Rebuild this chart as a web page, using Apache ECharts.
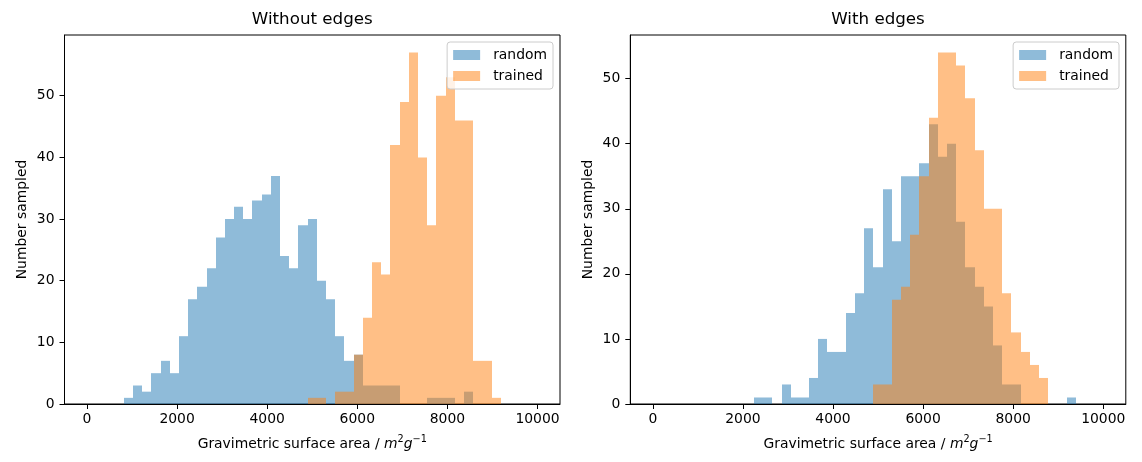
<!DOCTYPE html>
<html>
<head>
<meta charset="utf-8">
<title>Gravimetric surface area histograms</title>
<script src="https://cdn.jsdelivr.net/npm/echarts@6/dist/echarts.min.js"></script>
<style>
html, body { margin: 0; padding: 0; background: #fff; }
#main { width: 1142px; height: 462px; }
</style>
</head>
<body>
<div id="main"></div>
<script>
// histogram bins: 49 equal bins between 0 and 10000 (np.linspace(0, 10000, 50))
var binLo = 0, binHi = 10000, binCount = 49;
var xTicks = [0, 2000, 4000, 6000, 8000, 10000];
var yTicks = [0, 10, 20, 30, 40, 50];
var legendNames = ['random', 'trained'];

// counts per bin
var noEdgesRandom = [0, 0, 0, 0, 1, 3, 2, 5, 7, 5,
  11, 17, 19, 22, 27, 30, 32, 30, 33, 34,
  37, 24, 22, 29, 30, 20, 17, 11, 7, 8,
  3, 3, 3, 3, 0, 0, 0, 1, 1, 1,
  0, 2, 0, 0, 0, 0, 0, 0, 0];
var noEdgesTrained = [0, 0, 0, 0, 0, 0, 0, 0, 0, 0,
  0, 0, 0, 0, 0, 0, 0, 0, 0, 0,
  0, 0, 0, 0, 1, 1, 0, 2, 2, 8,
  14, 23, 21, 42, 49, 57, 40, 29, 50, 53,
  46, 46, 7, 7, 1, 0, 0, 0, 0];
var edgesRandom = [0, 0, 0, 0, 0, 0, 0, 0, 0, 0,
  0, 1, 1, 0, 3, 1, 1, 4, 10, 8,
  8, 14, 17, 27, 21, 33, 25, 35, 35, 37,
  43, 38, 40, 28, 21, 18, 15, 9, 3, 3,
  0, 0, 0, 0, 0, 1, 0, 0, 0];
var edgesTrained = [0, 0, 0, 0, 0, 0, 0, 0, 0, 0,
  0, 0, 0, 0, 0, 0, 0, 0, 0, 0,
  0, 0, 0, 0, 3, 3, 16, 18, 26, 35,
  44, 54, 54, 52, 47, 39, 30, 30, 17, 11,
  8, 6, 4, 0, 0, 0, 0, 0, 0];

var FONT = 'DejaVu Sans';
var blue = 'rgba(31,119,180,0.5)';
var orange = 'rgba(255,127,14,0.5)';

function binData(counts) {
  var w = (binHi - binLo) / binCount;
  var out = [];
  for (var i = 0; i < counts.length; i++) {
    out.push([binLo + i * w, binLo + (i + 1) * w, counts[i]]);
  }
  return out;
}

function renderBin(params, api) {
  var h = api.value(2);
  if (!h) return;
  var p0 = api.coord([api.value(0), h]);
  var p1 = api.coord([api.value(1), 0]);
  var x0 = Math.round(p0[0]), x1 = Math.round(p1[0]);
  return {
    type: 'rect',
    shape: { x: x0, y: p0[1], width: x1 - x0, height: p1[1] - p0[1] },
    style: { fill: api.visual('color') }
  };
}

function histSeries(name, counts, idx, color) {
  return {
    name: name,
    type: 'custom',
    xAxisIndex: idx,
    yAxisIndex: idx,
    itemStyle: { color: color },
    renderItem: renderBin,
    encode: { x: [0, 1], y: 2 },
    data: binData(counts),
    animation: false
  };
}

function plainNum(v) { return String(v); }

function xAxisFor(idx) {
  return {
    gridIndex: idx, type: 'value', min: -500, max: 10500,
    axisLine: { show: true, onZero: false, lineStyle: { color: '#000', width: 1 } },
    axisTick: { show: true, customValues: xTicks, length: 5, lineStyle: { color: '#000', width: 1 } },
    axisLabel: { customValues: xTicks, formatter: plainNum, color: '#000', fontSize: 13.9, fontFamily: FONT, margin: 8 },
    splitLine: { show: false },
    name: '{t|Gravimetric surface area / }{i|m}{s|2}{i|g}{s|\u22121}',
    nameLocation: 'middle', nameGap: 30,
    nameTextStyle: {
      color: '#000', fontFamily: FONT, fontSize: 13.9,
      rich: {
        t: { fontSize: 13.9, fontFamily: FONT, color: '#000', lineHeight: 20 },
        i: { fontSize: 13.9, fontFamily: FONT, color: '#000', fontStyle: 'italic', lineHeight: 20 },
        s: { fontSize: 9.7, fontFamily: FONT, color: '#000', verticalAlign: 'top', lineHeight: 20 }
      }
    }
  };
}

function yAxisFor(idx, max) {
  return {
    gridIndex: idx, type: 'value', min: 0, max: max,
    axisLine: { show: true, onZero: false, lineStyle: { color: '#000', width: 1 } },
    axisTick: { show: true, customValues: yTicks, length: 5, lineStyle: { color: '#000', width: 1 } },
    axisLabel: { customValues: yTicks, formatter: plainNum, color: '#000', fontSize: 13.9, fontFamily: FONT, margin: 10 },
    splitLine: { show: false },
    name: 'Number sampled', nameLocation: 'middle', nameGap: 35,
    nameTextStyle: { color: '#000', fontFamily: FONT, fontSize: 13.9 }
  };
}

function legendFor(right) {
  return {
    data: legendNames, orient: 'vertical', right: right, top: 42,
    icon: 'rect', itemWidth: 27, itemHeight: 10, itemGap: 7,
    textStyle: { color: '#000', fontSize: 13.9, fontFamily: FONT, padding: [0, 0, 0, 8] },
    padding: [6, 6, 6, 6], borderColor: '#cccccc', borderWidth: 1, borderRadius: 3,
    backgroundColor: 'rgba(255,255,255,0.8)'
  };
}

var chart = echarts.init(document.getElementById('main'), null, { renderer: 'canvas' });
chart.setOption({
  animation: false,
  backgroundColor: '#fff',
  textStyle: { fontFamily: FONT },
  grid: [
    { left: 64.5, top: 35, width: 495.5, height: 369, show: true, borderColor: '#000', borderWidth: 1, backgroundColor: 'transparent', outerBoundsMode: 'none' },
    { left: 630.3, top: 35, width: 495.5, height: 369, show: true, borderColor: '#000', borderWidth: 1, backgroundColor: 'transparent', outerBoundsMode: 'none' }
  ],
  xAxis: [xAxisFor(0), xAxisFor(1)],
  yAxis: [yAxisFor(0, 57 * 1.05), yAxisFor(1, 54 * 1.05)],
  legend: [legendFor(589), legendFor(23)],
  graphic: [
    { type: 'text', x: 312.25, y: 20, style: { text: 'Without edges', textAlign: 'center', textVerticalAlign: 'middle', fontSize: 16.7, fontFamily: FONT, fill: '#000' } },
    { type: 'text', x: 878, y: 20, style: { text: 'With edges', textAlign: 'center', textVerticalAlign: 'middle', fontSize: 16.7, fontFamily: FONT, fill: '#000' } }
  ],
  series: [
    histSeries('random', noEdgesRandom, 0, blue),
    histSeries('trained', noEdgesTrained, 0, orange),
    histSeries('random', edgesRandom, 1, blue),
    histSeries('trained', edgesTrained, 1, orange)
  ]
});
</script>
</body>
</html>
